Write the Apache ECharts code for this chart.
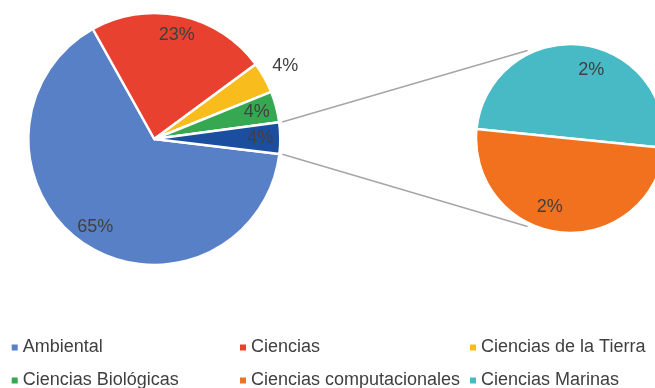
<!DOCTYPE html>
<html>
<head>
<meta charset="utf-8">
<script src="https://cdn.jsdelivr.net/npm/echarts@6/dist/echarts.min.js"></script>
<style>
html,body{margin:0;padding:0;background:#fff;}
#chart{width:655px;height:388px;}
</style>
</head>
<body>
<div id="chart"></div>
<script>
// ---- data ----
var mainNames = ['Ambiental', 'Ciencias', 'Ciencias de la Tierra', 'Ciencias Biológicas'];
var mainValues = [65, 23, 4, 4];
var subNames = ['Ciencias Marinas', 'Ciencias computacionales'];
var subValues = [2, 2];
var otherName = 'Otros';
var legendCols = [
  ['Ambiental', 'Ciencias Biológicas'],
  ['Ciencias', 'Ciencias computacionales'],
  ['Ciencias de la Tierra', 'Ciencias Marinas']
];

// ---- style ----
var colorMap = {
  'Ambiental': '#5880c6',
  'Ciencias': '#e8412f',
  'Ciencias de la Tierra': '#f8bd1c',
  'Ciencias Biológicas': '#36a852',
  'Otros': '#1c4ea0',
  'Ciencias computacionales': '#f2711f',
  'Ciencias Marinas': '#47bac5'
};
var FONT = '"Liberation Sans", Arial, sans-serif';
var TXT = '#404040';

var mainC = [154.3, 139], mainR = 126, mainStart = 353.2;
var subC = [570.5, 138.5], subR = 94.5, subStart = 174.2;

var otherValue = subValues.reduce(function (a, b) { return a + b; }, 0);
var allNames = mainNames.concat([otherName]);
var allValues = mainValues.concat([otherValue]);
var total = allValues.reduce(function (a, b) { return a + b; }, 0);

function pct(v) { return Math.round(v / total * 100) + '%'; }

var CLEAR = 'rgba(0,0,0,0)';
function mainData(labelFn) {
  return allNames.map(function (n, i) {
    var d = { name: n, value: allValues[i] };
    if (labelFn) {
      d.label = { show: labelFn(n) };
      d.itemStyle = { color: CLEAR, borderWidth: 0 };
    } else {
      d.itemStyle = { color: colorMap[n] };
    }
    return d;
  });
}
function subData(overlay) {
  return subNames.map(function (n, i) {
    return { name: n, value: subValues[i], itemStyle: overlay ? { color: CLEAR, borderWidth: 0 } : { color: colorMap[n] } };
  });
}

var labelStyle = {
  position: 'inside', color: TXT, fontSize: 18, fontFamily: FONT,
  formatter: function (p) { return pct(p.value); }
};

function pt(c, r, deg) {
  var a = deg * Math.PI / 180;
  return [c[0] + r * Math.cos(a), c[1] - r * Math.sin(a)];
}
// connector lines derived from the "other" slice angles (Otros is the last slice, ending where Ambiental starts)
var otherSpan = otherValue / total * 360;
var lowerAng = mainStart - 360;
var upperAng = lowerAng + otherSpan;
var l1a = pt(mainC, mainR + 3, upperAng), l1b = pt(subC, subR + 3.5, 116);
var l2a = pt(mainC, mainR + 3, lowerAng), l2b = pt(subC, subR + 3.5, -116);

var lefts = [11.7, 240, 470];
var legends = legendCols.map(function (col, i) {
  return {
    data: col, orient: 'vertical', left: lefts[i], top: 338.5, height: 60, padding: 0,
    icon: 'rect', itemWidth: 6, itemHeight: 6, itemGap: 15,
    itemStyle: { borderWidth: 0 },
    selectedMode: false,
    textStyle: { color: TXT, fontSize: 18, fontFamily: FONT, lineHeight: 17 }
  };
});

var option = {
  animation: false,
  legend: legends,
  graphic: [
    { type: 'line', shape: { x1: l1a[0], y1: l1a[1], x2: l1b[0], y2: l1b[1] }, style: { stroke: '#a6a6a6', lineWidth: 1.5 }, z: 1 },
    { type: 'line', shape: { x1: l2a[0], y1: l2a[1], x2: l2b[0], y2: l2b[1] }, style: { stroke: '#a6a6a6', lineWidth: 1.5 }, z: 1 }
  ],
  series: [
    {
      type: 'pie', center: mainC, radius: [0, mainR], startAngle: mainStart, clockwise: true,
      silent: true, avoidLabelOverlap: false, label: { show: false }, labelLine: { show: false },
      itemStyle: { borderColor: '#fff', borderWidth: 2.5 },
      data: mainData()
    },
    {
      type: 'pie', center: subC, radius: [0, subR], startAngle: subStart, clockwise: true,
      silent: true, avoidLabelOverlap: false, label: { show: false }, labelLine: { show: false },
      itemStyle: { borderColor: '#fff', borderWidth: 2.5 },
      data: subData(false)
    },
    {
      type: 'pie', center: mainC, radius: [80, mainR], startAngle: mainStart, clockwise: true,
      silent: true, avoidLabelOverlap: false, legendHoverLink: false, z: 5,
      label: labelStyle, labelLine: { show: false },
      data: mainData(function (n) { return n !== 'Ciencias de la Tierra'; })
    },
    {
      type: 'pie', center: mainC, radius: [mainR, 168], startAngle: mainStart, clockwise: true,
      silent: true, avoidLabelOverlap: false, legendHoverLink: false, z: 5,
      label: labelStyle, labelLine: { show: false },
      data: mainData(function (n) { return n === 'Ciencias de la Tierra'; })
    },
    {
      type: 'pie', center: subC, radius: [42, subR], startAngle: 163, clockwise: true,
      silent: true, avoidLabelOverlap: false, legendHoverLink: false, z: 5,
      label: labelStyle, labelLine: { show: false },
      data: subData(true)
    }
  ]
};

var chart = echarts.init(document.getElementById('chart'), null, { renderer: 'canvas' });
chart.setOption(option);
</script>
</body>
</html>
